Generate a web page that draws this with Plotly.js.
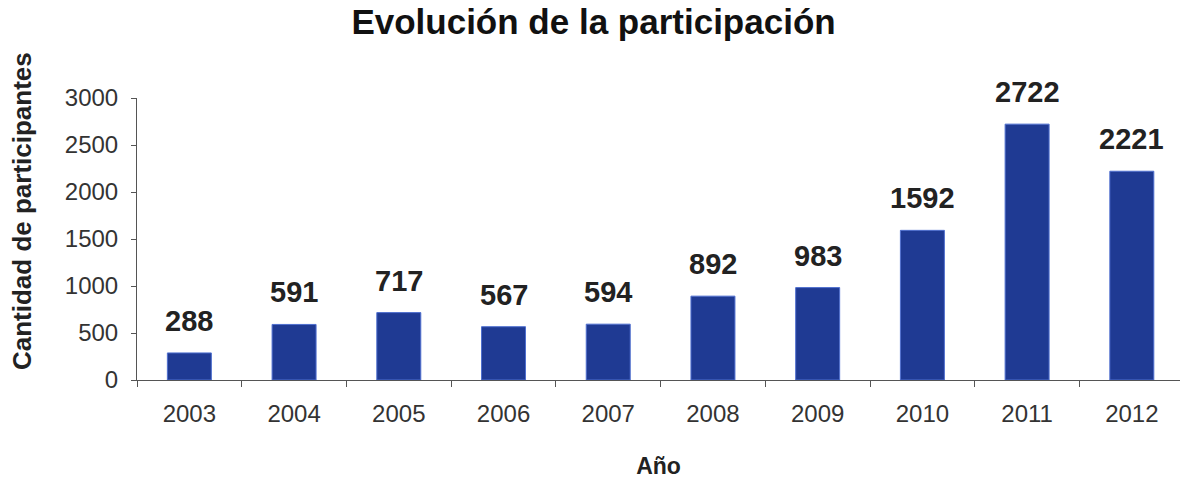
<!DOCTYPE html>
<html>
<head>
<meta charset="utf-8">
<script src="https://cdn.plot.ly/plotly-3.0.1.min.js"></script>
<style>html,body{margin:0;padding:0;background:#fff;}#chart{width:1180px;height:479px;}</style>
</head>
<body>
<div id="chart"></div>
<script>
const years = ['2003','2004','2005','2006','2007','2008','2009','2010','2011','2012'];
const participants = [288, 591, 717, 567, 594, 892, 983, 1592, 2722, 2221];
const yTicks = [0, 500, 1000, 1500, 2000, 2500, 3000];
const yTitle = 'Cantidad de participantes';

const trace = {
  type: 'bar',
  x: years,
  y: participants,
  width: 0.42,
  marker: {color: '#1f3a93', line: {color: '#4f6fcf', width: 1}},
  hoverinfo: 'x+y'
};

const annotations = years.map((yr, i) => ({
  x: i, y: participants[i], xref: 'x', yref: 'y',
  text: '<b>' + participants[i] + '</b>', showarrow: false,
  xanchor: 'center', yanchor: 'bottom', yshift: 14,
  font: {family: 'Liberation Sans, Arial, sans-serif', size: 29, color: '#222'}
}));
annotations.push({
  x: -0.110, y: 0.60, xref: 'paper', yref: 'paper',
  text: '<b>' + yTitle + '</b>', showarrow: false, textangle: -90,
  xanchor: 'center', yanchor: 'middle',
  font: {family: 'Liberation Sans, Arial, sans-serif', size: 26, color: '#222'}
});

const layout = {
  width: 1180, height: 479,
  margin: {l: 137, r: 0, t: 98, b: 99},
  paper_bgcolor: '#fff', plot_bgcolor: '#fff',
  font: {family: 'Liberation Sans, Arial, sans-serif', color: '#333'},
  title: {text: '<b>Evolución de la participación</b>', x: 0.503, xref: 'container', xanchor: 'center',
          y: 0.954, yref: 'container', yanchor: 'middle',
          font: {size: 35, color: '#111'}},
  showlegend: false,
  xaxis: {
    type: 'category', range: [-0.5, 9.46],
    showline: true, linecolor: '#555', linewidth: 1,
    ticks: 'outside', tickson: 'boundaries', ticklen: 6, tickcolor: '#555',
    tickfont: {size: 24, color: '#333'}, ticklabelstandoff: 12,
    showgrid: false, zeroline: false,
    title: {text: '<b>Año</b>', font: {size: 23, color: '#222'}, standoff: 33}
  },
  yaxis: {
    range: [0, 3000], tickvals: yTicks,
    showline: true, linecolor: '#555', linewidth: 1,
    ticks: 'outside', ticklen: 5, tickcolor: '#555',
    tickfont: {size: 24, color: '#333'}, ticklabelstandoff: 8,
    showgrid: false, zeroline: false
  },
  annotations: annotations
};

Plotly.newPlot('chart', [trace], layout, {displayModeBar: false});
</script>
</body>
</html>
